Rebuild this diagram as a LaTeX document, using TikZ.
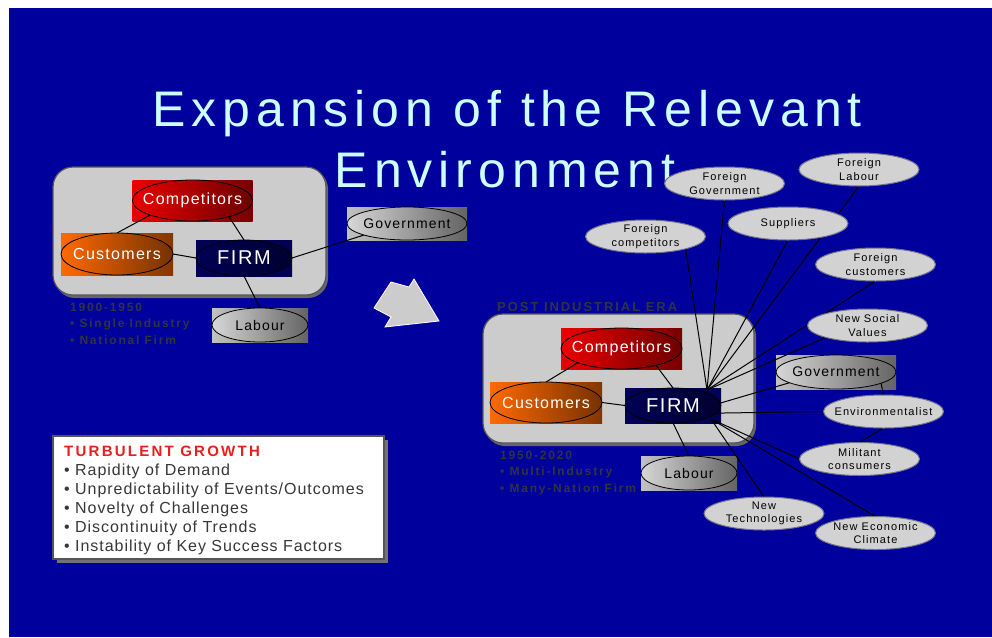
\documentclass[tikz,border=0pt]{standalone}
\usepackage{fontspec}
\setmainfont{Liberation Sans}
\newfontfamily\tfont[LetterSpace=12]{Liberation Sans}
\newfontfamily\nfont[LetterSpace=8]{Liberation Sans}
\newfontfamily\sfontx[LetterSpace=10]{Liberation Sans}
\newfontfamily\eraf[LetterSpace=15]{Liberation Sans}
\newfontfamily\lfont[LetterSpace=6]{Liberation Sans}
\usetikzlibrary{shapes.geometric}
\pgfdeclarelayer{bg}
\pgfdeclarelayer{rects}
\pgfdeclarelayer{lines}
\pgfsetlayers{bg,rects,lines,main}
\definecolor{bgblue}{RGB}{0,0,156}
\definecolor{titlecol}{RGB}{204,255,255}
\definecolor{boxgray}{RGB}{204,204,204}
\definecolor{boxedge}{RGB}{85,85,85}
\definecolor{eragray}{RGB}{50,50,65}
\definecolor{softgray}{RGB}{210,210,210}
\definecolor{softedge}{RGB}{115,115,140}
\definecolor{redA}{RGB}{235,0,0}
\definecolor{redB}{RGB}{120,0,0}
\definecolor{orA}{RGB}{255,105,0}
\definecolor{orB}{RGB}{130,55,0}
\definecolor{navA}{RGB}{0,0,85}
\definecolor{navB}{RGB}{0,0,60}
\definecolor{gryA}{RGB}{215,215,215}
\definecolor{gryB}{RGB}{100,100,100}
\definecolor{listgray}{RGB}{55,55,55}
\definecolor{turbred}{RGB}{235,30,30}
\tikzset{
  ell/.style={ellipse, inner sep=0pt, outer sep=0pt, draw=black, line width=0.8pt},
  redell/.style={ell, left color=redA, right color=redB!90!black},
  orell/.style={ell, left color=orA, right color=orB!90!black},
  navell/.style={ell, left color=navA, right color=navB!80!black},
  gryell/.style={ell, left color=gryA, right color=gryB},
  redrect/.style={left color=redA, right color=redB},
  orrect/.style={left color=orA, right color=orB},
  navrect/.style={left color=navA, right color=navA},
  gryrect/.style={left color=gryA!90!black, right color=gryB},
  wlbl/.style={font=\nfont\fontsize{16}{19}\selectfont, text=white},
  firmlbl/.style={font=\nfont\fontsize{20}{24}\selectfont, text=white},
  blbl/.style={font=\nfont\fontsize{14}{17}\selectfont, text=black},
  soft/.style={ellipse, inner sep=0pt, outer sep=0pt, minimum width=120pt, minimum height=33pt, fill=softgray, draw=softedge, line width=1pt},
  softlbl/.style={font=\sfontx\fontsize{11}{13.5}\selectfont, align=center, text=black},
  conn/.style={draw=black, line width=1pt},
  era/.style={font=\eraf\bfseries\fontsize{12}{14}\selectfont, text=eragray, anchor=base west, inner sep=0pt},
  grp/.style={fill=boxgray, draw=boxedge, line width=1.2pt, rounded corners=20pt},
  grpshadow/.style={fill=black!60, rounded corners=20pt},
  listtxt/.style={font=\lfont\fontsize{16}{19}\selectfont, text=listgray, anchor=base west, inner sep=0pt},
}
\begin{document}
\begin{tikzpicture}[x=1pt,y=-1pt]
\useasboundingbox (0,0) rectangle (992,637);
\begin{pgfonlayer}{bg}
  \fill[white] (0,0) rectangle (992,637);
  \fill[bgblue] (9,8) rectangle (992,637);
  \fill[grpshadow] (55,169) rectangle (328,298);
  \draw[grp] (53,167) rectangle (326,295);
  \fill[grpshadow] (485,316) rectangle (756,446);
  \draw[grp] (483,314) rectangle (754,443);
\end{pgfonlayer}

% title
\node[anchor=base, inner sep=0pt, font=\tfont\fontsize{50}{60}\selectfont, text=titlecol] (title1) at (507,126) {Expansion of the Relevant};
\node[anchor=base, inner sep=0pt, font=\tfont\fontsize{50}{60}\selectfont, text=titlecol] (title2) at (505,187) {Environment};

% arrow
\filldraw[fill=boxgray, draw=white, line width=0.8pt] (391,282) -- (409,287) -- (414,279) -- (439,321) -- (385,327) -- (391,317) -- (374,308) -- cycle;

% left diagram
\node[redell, minimum width=120pt, minimum height=41pt, label={[wlbl]center:Competitors}] (compL) at (192.5,200.5) {};
\node[orell, minimum width=112pt, minimum height=42pt, label={[wlbl]center:Customers}] (custL) at (117,254) {};
\node[navell, minimum width=96pt, minimum height=36pt, label={[firmlbl]center:FIRM}] (firmL) at (244,258) {};
\node[gryell, minimum width=120pt, minimum height=33pt, label={[blbl]center:Government}] (govL) at (407,223.5) {};
\node[gryell, minimum width=96pt, minimum height=34pt, label={[blbl]center:Labour}] (labL) at (260,325) {};

\node[era] (yl1) at (70,311) {1900-1950};
\node[era] (yl2) at (70,327.5) {• Single Industry};
\node[era] (yl3) at (70,344) {• National Firm};

% right diagram
\node[redell, minimum width=121pt, minimum height=41pt, label={[wlbl]center:Competitors}] (compR) at (621.5,348.5) {};
\node[orell, minimum width=112pt, minimum height=41pt, label={[wlbl]center:Customers}] (custR) at (546,402.5) {};
\node[navell, minimum width=96pt, minimum height=35pt, label={[firmlbl]center:FIRM}] (firmR) at (673,405.5) {};
\node[gryell, minimum width=96pt, minimum height=34pt, label={[blbl]center:Labour}] (labR) at (689,473) {};
\node[gryell, minimum width=120pt, minimum height=34pt, label={[blbl]center:Government}] (govR) at (836,372) {};

\node[era, font=\eraf\bfseries\fontsize{13}{15}\selectfont] (era) at (497,311) {POST INDUSTRIAL ERA};
\node[era] (yr1) at (500,459) {1950-2020};
\node[era] (yr2) at (500,475.5) {• Multi-Industry};
\node[era] (yr3) at (500,492) {• Many-Nation Firm};

\coordinate (hubA) at (707,390);
\coordinate (hubB) at (711,419);

\node[soft, label={[softlbl]center:Foreign\\Government}] (fgov) at (724.5,183.5) {};
\node[soft, label={[softlbl]center:Foreign\\Labour}] (flab) at (859,169.5) {};
\node[soft, label={[softlbl]center:Suppliers}] (sup) at (788,223.5) {};
\node[soft, label={[softlbl]center:Foreign\\competitors}] (fcomp) at (645.5,236.5) {};
\node[soft, label={[softlbl]center:Foreign\\customers}] (fcust) at (875.5,264.5) {};
\node[soft, label={[softlbl]center:New Social\\Values}] (nsv) at (867.5,325.5) {};
\node[soft, label={[softlbl]center:Environmentalist}] (env) at (883.5,411.5) {};
\node[soft, label={[softlbl]center:Militant\\consumers}] (mil) at (859.5,459) {};
\node[soft, label={[softlbl]center:New\\Technologies}] (ntech) at (764,513.5) {};
\node[soft, label={[softlbl]center:New Economic\\Climate}] (necon) at (875.5,533) {};

% rectangles behind coloured ellipses
\begin{pgfonlayer}{rects}
  \shade[redrect] (compL.west |- compL.north) rectangle (compL.east |- compL.south);
  \shade[orrect] (custL.west |- custL.north) rectangle (custL.east |- custL.south);
  \shade[navrect] (firmL.west |- firmL.north) rectangle (firmL.east |- firmL.south);
  \shade[gryrect] (govL.west |- govL.north) rectangle (govL.east |- govL.south);
  \shade[gryrect] (labL.west |- labL.north) rectangle (labL.east |- labL.south);
  \shade[redrect] (compR.west |- compR.north) rectangle (compR.east |- compR.south);
  \shade[orrect] (custR.west |- custR.north) rectangle (custR.east |- custR.south);
  \shade[navrect] (firmR.west |- firmR.north) rectangle (firmR.east |- firmR.south);
  \shade[gryrect] (labR.west |- labR.north) rectangle (labR.east |- labR.south);
  \shade[gryrect] (govR.west |- govR.north) rectangle (govR.east |- govR.south);
\end{pgfonlayer}

% connectors
\begin{pgfonlayer}{lines}
  \draw[conn] (compL.199) -- (custL.north);
  \draw[conn] (compL.-24) -- (firmL.north);
  \draw[conn] (custL.east) -- (firmL.west);
  \draw[conn] (firmL.east) -- (govL.195);
  \draw[conn] (firmL.south) -- (labL.north);
  \draw[conn] (compR.198) -- (custR.north);
  \draw[conn] (compR.-26) -- (firmR.north);
  \draw[conn] (custR.east) -- (firmR.west);
  \draw[conn] (firmR.south) -- (labR.north);
  \draw[conn] (govR.193) -- (firmR.3);
  \draw[conn] (govR.-14) -- (env.north);
  \draw[conn] (env.west) -- (firmR.-10);
  \draw[conn] (env.south) -- (mil.north);
  \draw[conn] (mil.west) -- (hubB);
  \draw[conn] (necon.north) -- (hubB);
  \draw[conn] (ntech.north) -- (hubB);
  \draw[conn] (fcomp.-17) -- (hubA);
  \draw[conn] (fgov.south) -- (hubA);
  \draw[conn] (sup.south) -- (hubA);
  \draw[conn] (flab.south) -- (hubA);
  \draw[conn] (fcust.south) -- (hubA);
  \draw[conn] (nsv.196) -- (hubA);
\end{pgfonlayer}

% turbulent growth box
\fill[black!55] (57,440) rectangle (388,563);
\filldraw[fill=white, draw=boxedge, line width=1.2pt] (53,436) rectangle (384,559);
\node[listtxt, font=\eraf\bfseries\fontsize{15}{18}\selectfont, text=turbred] (tg) at (64,456.5) {TURBULENT GROWTH};
\node[listtxt] (b1) at (64,475) {• Rapidity of Demand};
\node[listtxt] (b2) at (64,494) {• Unpredictability of Events/Outcomes};
\node[listtxt] (b3) at (64,513) {• Novelty of Challenges};
\node[listtxt] (b4) at (64,532) {• Discontinuity of Trends};
\node[listtxt] (b5) at (64,551) {• Instability of Key Success Factors};
\end{tikzpicture}
\end{document}
